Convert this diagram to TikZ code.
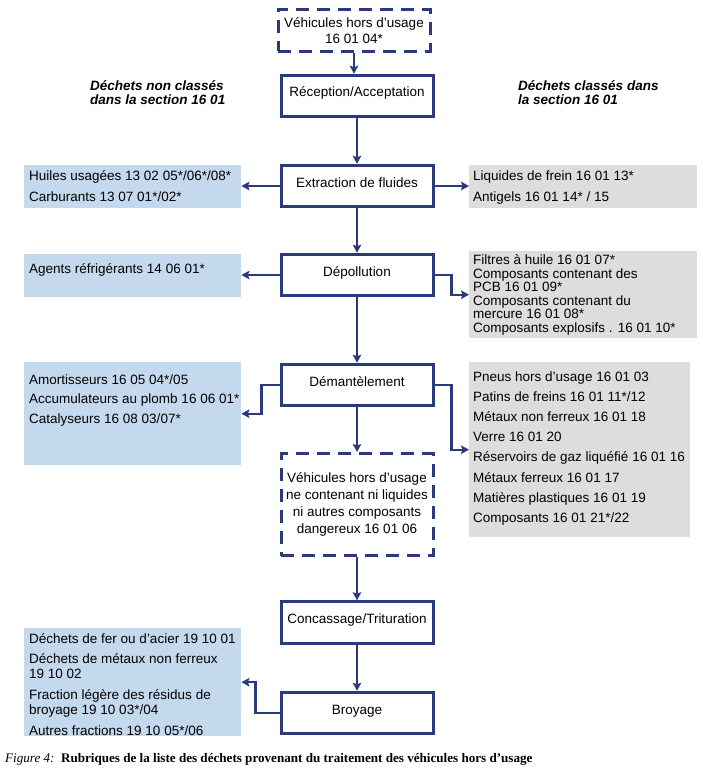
\documentclass[tikz,border=0pt]{standalone}
\usepackage{fontspec}
\setmainfont{Liberation Serif}
\setsansfont{Liberation Sans}
\usetikzlibrary{positioning, arrows.meta}

\definecolor{boxnavy}{RGB}{42,58,124}
\definecolor{listblue}{RGB}{197,217,238}
\definecolor{listgrey}{RGB}{221,221,221}

\tikzset{
  stagebox/.style={draw=boxnavy, line width=3pt, fill=white, inner sep=0pt,
    minimum width=152pt, minimum height=41.5pt, text height=7pt, text depth=5pt,
    font=\sffamily\fontsize{13.5}{16}\selectfont},
  vhubox/.style={draw=boxnavy, line width=3pt, dash pattern=on 13pt off 8pt,
    fill=white, inner sep=0pt, minimum width=152pt, align=center},
  listbox/.style={anchor=north west, inner sep=0pt},
  listline/.style={anchor=base west, inner sep=0pt,
    font=\sffamily\fontsize{13.5}{16}\selectfont},
  heading/.style={listline, font=\sffamily\bfseries\itshape\fontsize{13.5}{16}\selectfont},
  flow/.style={draw=boxnavy, line width=2.4pt,
    -{Stealth[length=8pt, width=8.5pt, inset=1.5pt]}},
}

\begin{document}
\begin{tikzpicture}[x=1pt, y=-1pt]
  % Page frame
  \useasboundingbox (0,0) rectangle (702,770);
  \fill[white] (0,0) rectangle (702,770);

  % Process stages
  \node[vhubox, minimum height=42pt, font=\sffamily\fontsize{13.5}{16}\selectfont]
    (vhu) at (354,30.5) {Véhicules hors d’usage\\16 01 04*};
  \node[stagebox] (reception) at (357,96) {Réception/Acceptation};
  \node[stagebox] (extract) at (357,186) {Extraction de fluides};
  \node[stagebox] (depol) at (357,275) {Dépollution};
  \node[stagebox] (dismantle) at (357,385) {Démantèlement};
  \node[vhubox, minimum height=102pt, font=\sffamily\fontsize{13.5}{17}\selectfont]
    (cleanvhu) at (357,504.5) {Véhicules hors d’usage\\ne contenant ni liquides\\ni autres composants\\dangereux 16 01 06};
  \node[stagebox] (crush) at (357,622.5) {Concassage/Trituration};
  \node[stagebox] (shred) at (357,713) {Broyage};

  % Column headings
  \node[heading] (unclassed-1) at (90,90.5) {Déchets non classés};
  \node[heading] (unclassed-2) at (90,104.5) {dans la section 16 01};
  \node[heading] (classed-1) at (518,90.5) {Déchets classés dans};
  \node[heading] (classed-2) at (518,104.5) {la section 16 01};

  % Waste lists, left side
  \node[listbox, fill=listblue, minimum width=217pt, minimum height=43pt] (oils) at (24,165) {};
  \foreach \y/\t [count=\i] in {180/{Huiles usagées 13 02 05*/06*/08*}, 201/{Carburants 13 07 01*/02*}}
    \node[listline] (oils-\i) at (29,\y) {\t};

  \node[listbox, fill=listblue, minimum width=217pt, minimum height=43pt] (fridge) at (24,254) {};
  \node[listline] (fridge-1) at (29,273) {Agents réfrigérants 14 06 01*};

  \node[listbox, fill=listblue, minimum width=217pt, minimum height=103pt] (battery) at (24,362) {};
  \foreach \y/\t [count=\i] in {384.5/{Amortisseurs 16 05 04*/05}, 403.5/{Accumulateurs au plomb 16 06 01*},
      423/{Catalyseurs 16 08 03/07*}}
    \node[listline] (battery-\i) at (29,\y) {\t};

  \node[listbox, fill=listblue, minimum width=217pt, minimum height=108pt] (scrap) at (24,628) {};
  \foreach \y/\t [count=\i] in {643.5/{Déchets de fer ou d’acier 19 10 01}, 663.5/{Déchets de métaux non ferreux},
      678.5/{19 10 02}, 699.5/{Fraction légère des résidus de}, 714.5/{broyage 19 10 03*/04},
      735.5/{Autres fractions 19 10 05*/06}}
    \node[listline] (scrap-\i) at (29,\y) {\t};

  % Waste lists, right side
  \node[listbox, fill=listgrey, minimum width=228pt, minimum height=43pt] (brake) at (469,165) {};
  \foreach \y/\t [count=\i] in {180/{Liquides de frein 16 01 13*}, 201/{Antigels 16 01 14* / 15}}
    \node[listline] (brake-\i) at (473,\y) {\t};

  \node[listbox, fill=listgrey, minimum width=228pt, minimum height=87pt] (filter) at (469,251) {};
  \foreach \y/\t [count=\i] in {264.5/{Filtres à huile 16 01 07*}, 278/{Composants contenant des},
      291.5/{PCB 16 01 09*}, 305/{Composants contenant du}, 318.5/{mercure 16 01 08*},
      332/{Composants explosifs . 16 01 10*}}
    \node[listline] (filter-\i) at (473,\y) {\t};

  \node[listbox, fill=listgrey, minimum width=221pt, minimum height=175pt] (parts) at (469,362) {};
  \foreach \y/\t [count=\i] in {381/{Pneus hors d’usage 16 01 03}, 401.2/{Patins de freins 16 01 11*/12},
      421.4/{Métaux non ferreux 16 01 18}, 441.6/{Verre 16 01 20}, 461.8/{Réservoirs de gaz liquéfié 16 01 16},
      482/{Métaux ferreux 16 01 17}, 502.2/{Matières plastiques 16 01 19}, 522.4/{Composants 16 01 21*/22}}
    \node[listline] (parts-\i) at (473,\y) {\t};

  % Connectors
  \draw[flow] (vhu.south) -- (vhu.south |- reception.north);
  \draw[flow] (reception.south) -- (extract.north);
  \draw[flow] (extract.west) -- (extract.west -| oils.east);
  \draw[flow] (extract.east) -- (extract.east -| brake.west);
  \draw[flow] (extract.south) -- (depol.north);
  \draw[flow] (depol.west) -- (depol.west -| fridge.east);
  \draw[flow] (depol.east) -- ++(17,0) |- (filter.west);
  \draw[flow] (depol.south) -- (dismantle.north);
  \draw[flow] (dismantle.west) -- ++(-18,0) |- (battery.east);
  \draw[flow] (dismantle.east) -- ++(17,0) |- (parts.west);
  \draw[flow] (dismantle.south) -- (cleanvhu.north);
  \draw[flow] (cleanvhu.south) -- (crush.north);
  \draw[flow] (crush.south) -- (shred.north);
  \draw[flow] (shred.west) -- ++(-24,0) |- (scrap.east);

  % Caption
  \node[anchor=base west, inner sep=0pt, font=\fontsize{13.1}{15}\selectfont] (caption) at (5,762)
    {\textit{Figure 4:}\enspace\textbf{Rubriques de la liste des déchets provenant du traitement des véhicules hors d’usage}};
\end{tikzpicture}
\end{document}
